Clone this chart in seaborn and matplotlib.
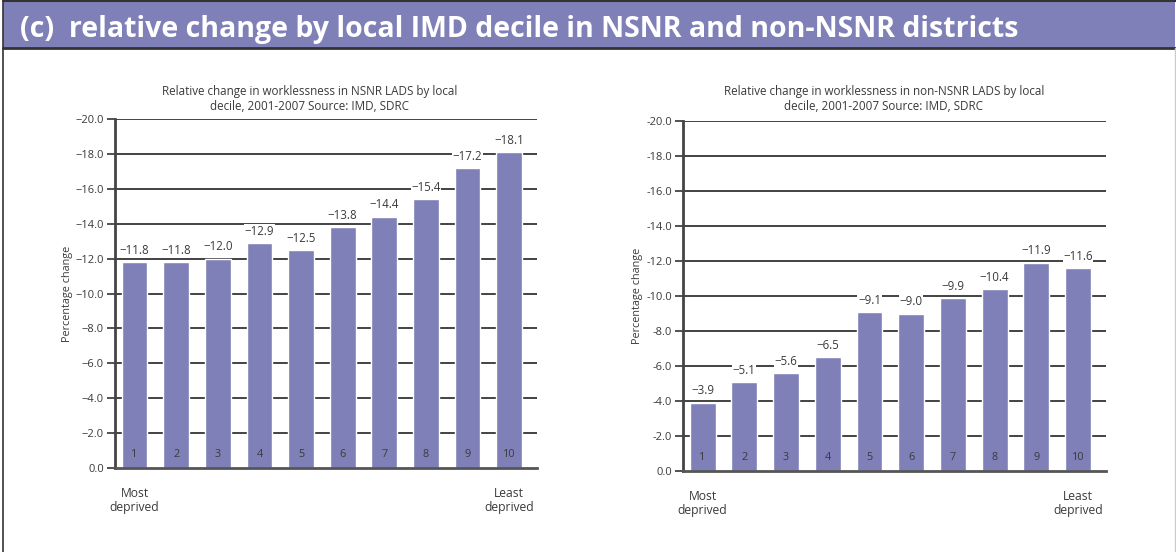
import numpy as np
import pandas as pd
import matplotlib
matplotlib.use("Agg")
import matplotlib.pyplot as plt
import seaborn as sns
from matplotlib.patches import Rectangle
from matplotlib.lines import Line2D

# data
deciles = ["1", "2", "3", "4", "5", "6", "7", "8", "9", "10"]
nsnr_change = [-11.8, -11.8, -12.0, -12.9, -12.5, -13.8, -14.4, -15.4, -17.2, -18.1]
non_nsnr_change = [-3.9, -5.1, -5.6, -6.5, -9.1, -9.0, -9.9, -10.4, -11.9, -11.6]
y_ticks = [0, -2, -4, -6, -8, -10, -12, -14, -16, -18, -20]

banner_title = "(c)  relative change by local IMD decile in NSNR and non-NSNR districts"
left_title = "Relative change in worklessness in NSNR LADS by local\ndecile, 2001-2007 Source: IMD, SDRC"
right_title = "Relative change in worklessness in non-NSNR LADS by local\ndecile, 2001-2007 Source: IMD, SDRC"

purple = "#8080b8"
text_grey = "#3a3a3a"

sns.set_theme(style="white")
plt.rcParams['font.family'] = ['Open Sans', 'DejaVu Sans']

fig = plt.figure(figsize=(11.76, 5.52), dpi=100)
W, H = 1176, 552

# banner + page frame
fig.patches.append(Rectangle((3 / W, 1 - 48 / H), (W - 4) / W, 47 / H, transform=fig.transFigure,
                             facecolor=purple, edgecolor="none", zorder=0))
fig.lines.append(Line2D([3 / W, 1], [1 - 48 / H, 1 - 48 / H], transform=fig.transFigure, color="#333333", lw=2))
fig.lines.append(Line2D([3 / W, 1], [1 - 1 / H, 1 - 1 / H], transform=fig.transFigure, color="#333333", lw=1.5))
fig.lines.append(Line2D([3 / W, 3 / W], [0, 1], transform=fig.transFigure, color="#333333", lw=1.2))
fig.lines.append(Line2D([1175 / W, 1175 / W], [0, 1 - 48 / H], transform=fig.transFigure, color="#cccccc", lw=1))
fig.text(20 / W, 1 - 29 / H, banner_title, color="white", fontsize=20.5, fontweight="bold",
         va="center", ha="left")


def draw_panel(rect, values, title, title_x, minus):
    ax = fig.add_axes(rect)
    df = pd.DataFrame({"decile": deciles, "change": values})
    sns.barplot(data=df, x="decile", y="change", order=deciles, color=purple, saturation=1,
                width=0.62, ax=ax)
    for p in ax.patches:
        p.set_zorder(3)
    ax.set_ylim(0, -20)
    ax.set_xlim(-0.47, 9.67)
    ax.set_yticks(y_ticks)
    ax.set_yticklabels([("%.1f" % t).replace("-", minus) if t != 0 else "0.0" for t in y_ticks],
                       fontsize=8, color=text_grey)
    ax.set_xticks([])
    ax.set_xlabel("")
    ax.set_ylabel("Percentage change", fontsize=7.8, color=text_grey, labelpad=2)
    ax.tick_params(axis="y", length=6, width=1.2, color="#333333", direction="out", pad=2, left=True)
    for t in y_ticks[1:]:
        ax.axhline(t, color="#222222", lw=1.2, zorder=1)
    for s in ["top", "right"]:
        ax.spines[s].set_visible(False)
    ax.spines["left"].set_color("#444444")
    ax.spines["left"].set_linewidth(2)
    ax.spines["bottom"].set_color("#555555")
    ax.spines["bottom"].set_linewidth(2)
    ax.spines["bottom"].set_zorder(4)
    for i, v in enumerate(values):
        ax.text(i, v - 0.3, ("%.1f" % v).replace("-", "\u2212"), ha="center", va="bottom",
                fontsize=8.3, color=text_grey, zorder=5,
                bbox=dict(boxstyle="square,pad=0.05", facecolor="white", edgecolor="none"))
        ax.text(i, -0.75, deciles[i], ha="center", va="center", fontsize=7.8, color=text_grey, zorder=5)
    ax.text(0, 1.1, "Most\ndeprived", ha="center", va="top", fontsize=8.7, color=text_grey,
            linespacing=1.05)
    ax.text(9, 1.1, "Least\ndeprived", ha="center", va="top", fontsize=8.7, color=text_grey,
            linespacing=1.05)
    fig.text(title_x / W, 1 - 99 / H, title, ha="center", va="center", fontsize=8.4,
             color=text_grey, linespacing=1.15)
    return ax


draw_panel([115 / W, 1 - 468 / H, 422 / W, 349 / H], nsnr_change, left_title, 310, "\u2212")
draw_panel([683 / W, 1 - 471 / H, 423 / W, 350 / H], non_nsnr_change, right_title, 884, "-")

fig.savefig("out.png", dpi=100)
